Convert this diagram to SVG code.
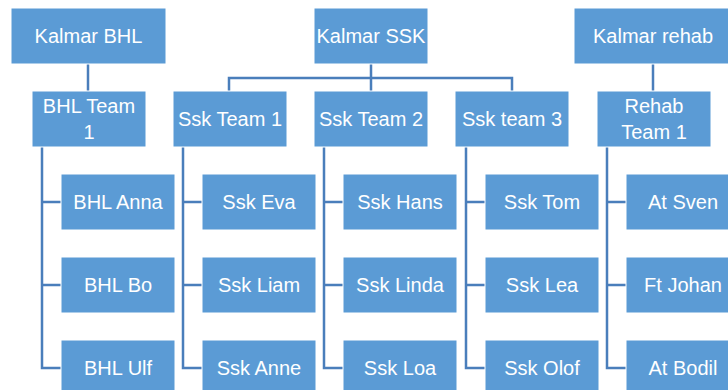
<svg xmlns="http://www.w3.org/2000/svg" width="728" height="390" viewBox="0 0 728 390">
<style>
.b{fill:#5b9bd5;stroke:#ffffff;stroke-width:1}
.t{fill:#ffffff;font-family:"Liberation Sans",Arial,sans-serif;font-size:20px;text-anchor:middle}
.c{fill:none;stroke:#4a7ebb;stroke-width:2.5}
</style>
<rect width="728" height="390" fill="#ffffff"/>
<g id="connectors">
<path class="c" d="M88,64V91"/>
<path class="c" d="M371,64V91M229,91V78H512V91"/>
<path class="c" d="M653,64V91"/>
<path class="c" d="M42,147V368H61M42,202H61M42,285H61"/>
<path class="c" d="M183,147V368H202M183,202H202M183,285H202"/>
<path class="c" d="M324,147V368H343M324,202H343M324,285H343"/>
<path class="c" d="M466,147V368H485M466,202H485M466,285H485"/>
<path class="c" d="M607,147V368H626M607,202H626M607,285H626"/>
</g>
<g id="kalmar-bhl"><rect class="b" x="11" y="8" width="155" height="56"/><text class="t" x="88.5" y="43">Kalmar BHL</text></g>
<g id="kalmar-ssk"><rect class="b" x="314" y="8" width="114" height="56"/><text class="t" x="371" y="43">Kalmar SSK</text></g>
<g id="kalmar-rehab"><rect class="b" x="574" y="8" width="156" height="56"/><text class="t" x="653" y="43">Kalmar rehab</text></g>
<g id="bhl-team-1"><rect class="b" x="32" y="91" width="114" height="56"/><text class="t" x="89" y="113">BHL Team</text><text class="t" x="89" y="139">1</text></g>
<g id="ssk-team-1"><rect class="b" x="173" y="91" width="114" height="56"/><text class="t" x="230" y="126">Ssk Team 1</text></g>
<g id="ssk-team-2"><rect class="b" x="314" y="91" width="114" height="56"/><text class="t" x="371" y="126">Ssk Team 2</text></g>
<g id="ssk-team-3"><rect class="b" x="455" y="91" width="114" height="56"/><text class="t" x="512" y="126">Ssk team 3</text></g>
<g id="rehab-team-1"><rect class="b" x="597" y="91" width="114" height="56"/><text class="t" x="654" y="113">Rehab</text><text class="t" x="654" y="139">Team 1</text></g>
<g id="bhl-anna"><rect class="b" x="61" y="174" width="114" height="56"/><text class="t" x="118" y="209">BHL Anna</text></g>
<g id="bhl-bo"><rect class="b" x="61" y="257" width="114" height="56"/><text class="t" x="118" y="292">BHL Bo</text></g>
<g id="bhl-ulf"><rect class="b" x="61" y="340" width="114" height="56"/><text class="t" x="118" y="375">BHL Ulf</text></g>
<g id="ssk-eva"><rect class="b" x="202" y="174" width="114" height="56"/><text class="t" x="259" y="209">Ssk Eva</text></g>
<g id="ssk-liam"><rect class="b" x="202" y="257" width="114" height="56"/><text class="t" x="259" y="292">Ssk Liam</text></g>
<g id="ssk-anne"><rect class="b" x="202" y="340" width="114" height="56"/><text class="t" x="259" y="375">Ssk Anne</text></g>
<g id="ssk-hans"><rect class="b" x="343" y="174" width="114" height="56"/><text class="t" x="400" y="209">Ssk Hans</text></g>
<g id="ssk-linda"><rect class="b" x="343" y="257" width="114" height="56"/><text class="t" x="400" y="292">Ssk Linda</text></g>
<g id="ssk-loa"><rect class="b" x="343" y="340" width="114" height="56"/><text class="t" x="400" y="375">Ssk Loa</text></g>
<g id="ssk-tom"><rect class="b" x="485" y="174" width="114" height="56"/><text class="t" x="542" y="209">Ssk Tom</text></g>
<g id="ssk-lea"><rect class="b" x="485" y="257" width="114" height="56"/><text class="t" x="542" y="292">Ssk Lea</text></g>
<g id="ssk-olof"><rect class="b" x="485" y="340" width="114" height="56"/><text class="t" x="542" y="375">Ssk Olof</text></g>
<g id="at-sven"><rect class="b" x="626" y="174" width="114" height="56"/><text class="t" x="683" y="209">At Sven</text></g>
<g id="ft-johan"><rect class="b" x="626" y="257" width="114" height="56"/><text class="t" x="683" y="292">Ft Johan</text></g>
<g id="at-bodil"><rect class="b" x="626" y="340" width="114" height="56"/><text class="t" x="683" y="375">At Bodil</text></g>
</svg>
